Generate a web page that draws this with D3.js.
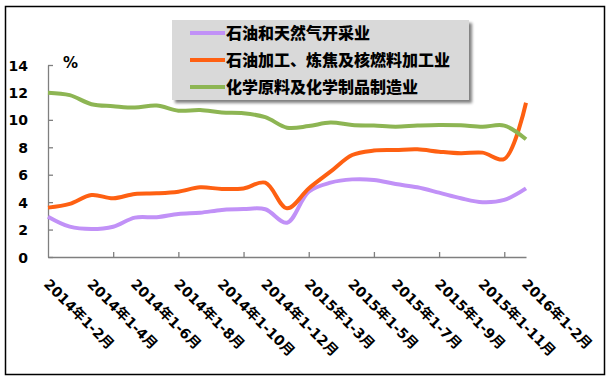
<!DOCTYPE html>
<html>
<head>
<meta charset="utf-8">
<script src="https://cdn.jsdelivr.net/npm/d3@7"></script>
<style>
  body { margin: 0; background: #fff; }
  text { font-family: "DejaVu Sans", "Noto Sans CJK SC", sans-serif; font-weight: bold; fill: #000; }
</style>
</head>
<body>
<svg id="chart"></svg>
<script>
/**
 * Chart data.
 */
var categories = [
    "2014年1-2月", "2014年1-3月", "2014年1-4月", "2014年1-5月", "2014年1-6月",
    "2014年1-7月", "2014年1-8月", "2014年1-9月", "2014年1-10月", "2014年1-11月",
    "2014年1-12月", "2015年1-2月", "2015年1-3月", "2015年1-4月", "2015年1-5月",
    "2015年1-6月", "2015年1-7月", "2015年1-8月", "2015年1-9月", "2015年1-10月",
    "2015年1-11月", "2015年1-12月", "2016年1-2月"
];
var seriesNames = ["石油和天然气开采业", "石油加工、炼焦及核燃料加工业", "化学原料及化学制品制造业"];
var oilGas = [2.94, 2.21, 2.04, 2.21, 2.87, 2.9, 3.14, 3.23, 3.43, 3.5, 3.48, 2.5,
    4.76, 5.42, 5.66, 5.62, 5.32, 5.08, 4.69, 4.28, 3.99, 4.16, 5.0];
var refining = [3.6, 3.87, 4.52, 4.28, 4.6, 4.64, 4.76, 5.08, 4.96, 5.0, 5.42, 3.55,
    5.0, 6.22, 7.44, 7.76, 7.8, 7.85, 7.68, 7.56, 7.61, 7.15, 11.25];
var chemical = [11.98, 11.8, 11.14, 11.0, 10.9, 11.04, 10.67, 10.72, 10.53, 10.48, 10.2, 9.43,
    9.55, 9.8, 9.63, 9.58, 9.5, 9.58, 9.63, 9.6, 9.5, 9.58, 8.58];
var yTicks = [0, 2, 4, 6, 8, 10, 12, 14];
var colors = ["#c191f7", "#fe6012", "#8db553"];

var w = 614;
var h = 386;

var svg = d3.select("#chart").attr("width", w).attr("height", h);

// Outer frame
svg.append("rect")
    .attr("x", 5.5).attr("y", 6.5)
    .attr("width", 599).attr("height", 368)
    .attr("fill", "#fff")
    .attr("stroke", "#000")
    .attr("stroke-width", 1.5);

// Scales: first and last category sit on the axis ends.
var x = d3.scalePoint().domain(categories).range([48, 526]);
var y = d3.scaleLinear().domain([0, 14]).range([257, 65]);

// Y axis, ticks pointing inward
var yAxis = svg.append("g")
    .attr("transform", "translate(48,0)")
    .call(d3.axisLeft(y).tickValues(yTicks).tickSizeInner(-5).tickSizeOuter(0).tickPadding(20));
yAxis.selectAll("path, line").attr("stroke", "#7f7f7f").attr("stroke-width", 1.3);
yAxis.selectAll("text").style("font-size", "14px").attr("dy", "0.36em");

// X axis line with a tick every third category
var xAxis = svg.append("g")
    .attr("transform", "translate(0,257)")
    .call(d3.axisBottom(x)
        .tickValues(categories.filter(function(d, i) { return i > 0 && i % 3 === 0; }))
        .tickSizeInner(-5).tickSizeOuter(0).tickFormat(""));
xAxis.selectAll("path, line").attr("stroke", "#7f7f7f").attr("stroke-width", 1.3);

// X labels, every second category, rotated
svg.append("g").selectAll("text")
    .data(categories.filter(function(d, i) { return i % 2 === 0; }))
    .enter()
    .append("text")
    .attr("transform", function(d) {
        return "translate(" + (x(d) - 5) + ",285) rotate(45)";
    })
    .style("font-size", "14px")
    .text(function(d) { return d; });

// Unit label
svg.append("text")
    .attr("x", 63).attr("y", 68)
    .style("font-size", "15px")
    .text("%");

// Lines
var line = d3.line()
    .x(function(d, i) { return x(categories[i]); })
    .y(function(d) { return y(d); })
    .curve(d3.curveCatmullRom.alpha(0.5));

[oilGas, refining, chemical].forEach(function(s, k) {
    svg.append("path")
        .datum(s)
        .attr("d", line)
        .attr("fill", "none")
        .attr("stroke", colors[k])
        .attr("stroke-width", 4)
        .attr("stroke-linejoin", "round");
});

// Legend with drop shadow
var defs = svg.append("defs");
var f = defs.append("filter").attr("id", "shadow")
    .attr("x", "-5%").attr("y", "-5%").attr("width", "115%").attr("height", "130%");
f.append("feGaussianBlur").attr("in", "SourceAlpha").attr("stdDeviation", 1.5);
f.append("feOffset").attr("dx", 3).attr("dy", 3).attr("result", "ob");
f.append("feComponentTransfer").append("feFuncA").attr("type", "linear").attr("slope", 0.5);
var merge = f.append("feMerge");
merge.append("feMergeNode");
merge.append("feMergeNode").attr("in", "SourceGraphic");

var legend = svg.append("g");
legend.append("rect")
    .attr("x", 172).attr("y", 20)
    .attr("width", 297).attr("height", 80)
    .attr("fill", "#d9d9d9")
    .attr("filter", "url(#shadow)");

var items = legend.selectAll(".item")
    .data(seriesNames)
    .enter()
    .append("g")
    .attr("transform", function(d, i) { return "translate(0," + (33 + i * 27) + ")"; });

items.append("line")
    .attr("x1", 190).attr("x2", 225)
    .attr("stroke", function(d, i) { return colors[i]; })
    .attr("stroke-width", 4);

items.append("text")
    .attr("x", 226)
    .attr("dy", "0.36em")
    .style("font-family", "'Noto Sans CJK SC', sans-serif")
    .style("font-size", "16px")
    .style("font-weight", 900)
    .text(function(d) { return d; });
</script>
</body>
</html>
